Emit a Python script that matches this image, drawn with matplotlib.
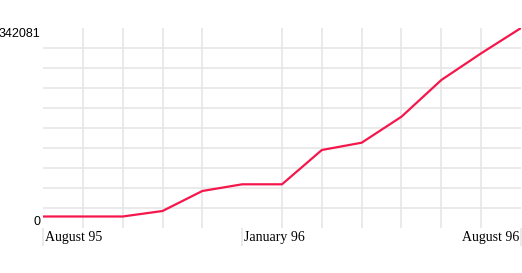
import matplotlib
matplotlib.use('Agg')
import matplotlib.pyplot as plt
import numpy as np
from matplotlib.transforms import ScaledTranslation

months = ['August 95', 'September 95', 'October 95', 'November 95', 'December 95',
          'January 96', 'February 96', 'March 96', 'April 96', 'May 96',
          'June 96', 'July 96', 'August 96']
values = [19670, 19670, 19670, 29077, 63285, 74745, 74745,
          133412, 145898, 190368, 253140, 298808, 342081]
shown = ['August 95', 'January 96', 'August 96']
y_max = 342081

fig = plt.figure(figsize=(5.22, 2.73), dpi=100)
ax = fig.add_axes([43/522, 45/273, 478/522, 200/273])

x = np.arange(len(months))
ax.plot(x, values, color='#f5174b', linewidth=1.6, zorder=3)

ax.set_xlim(0, len(months) - 1)
ax.set_ylim(0, y_max)

for s in ax.spines.values():
    s.set_visible(False)

# grid
ax.set_xticks(x, minor=True)
ax.set_yticks(np.linspace(0, y_max, 11), minor=True)
ax.grid(which='minor', color='#e6e6e6', linewidth=1.2)
ax.tick_params(which='minor', length=0)

# x labels, left-aligned next to the tick (last one right-aligned)
pos = [months.index(m) for m in shown]
ax.set_xticks(pos)
ax.set_xticklabels(shown, family='Liberation Serif', fontsize=10)
ax.tick_params(axis='x', which='major', length=13, width=1.2, color='#e6e6e6',
               pad=-11)
labs = ax.get_xticklabels()
for i, t in enumerate(labs):
    last = i == len(labs) - 1
    t.set_ha('right' if last else 'left')
    dx = -2/100 if last else 2/100
    t.set_transform(t.get_transform() + ScaledTranslation(dx, 0, fig.dpi_scale_trans))

# y labels
ax.set_yticks([0, y_max])
ax.set_yticklabels(['0', str(y_max)], family='Liberation Sans', fontsize=9)
ax.tick_params(axis='y', which='major', length=0, pad=2)
ylabs = ax.get_yticklabels()
ylabs[0].set_va('bottom')
ylabs[1].set_va('top')

fig.savefig('out.png', dpi=100)
